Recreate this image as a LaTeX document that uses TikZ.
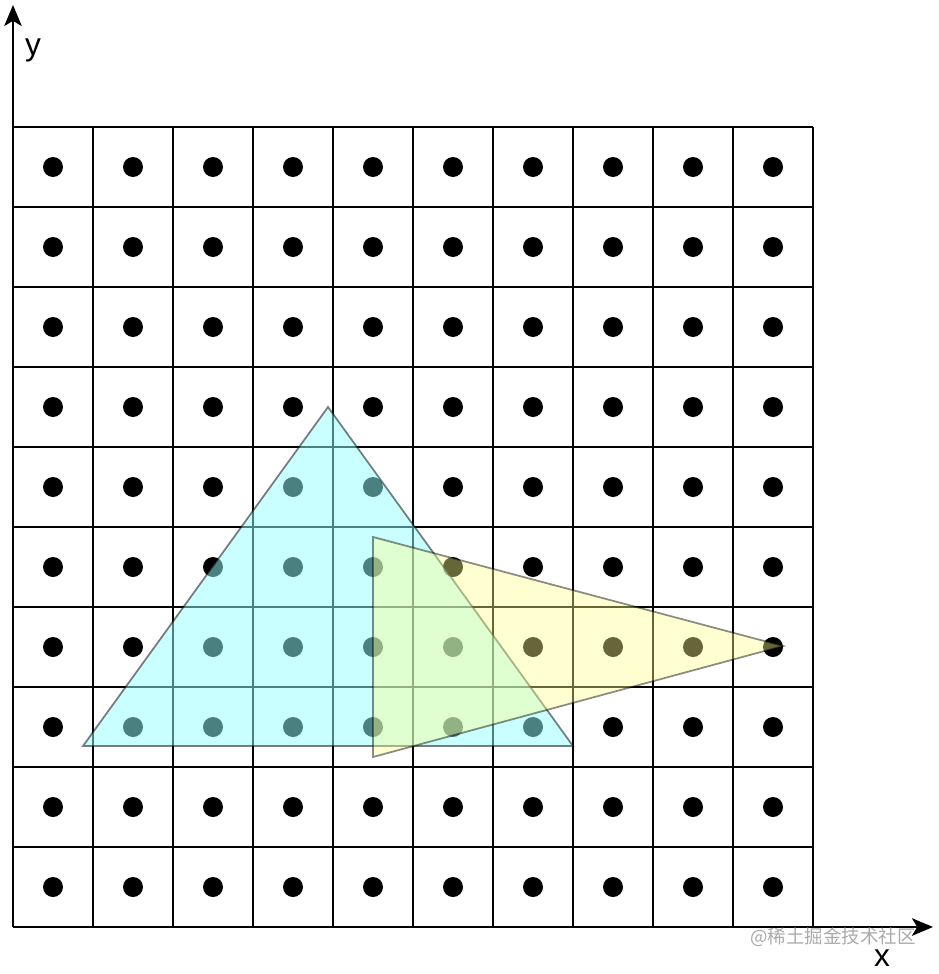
\documentclass[tikz,border=0pt]{standalone}
\usepackage{fontspec}
\setmainfont{Liberation Sans}
\newfontfamily\cjk{Noto Sans CJK SC}
\usetikzlibrary{arrows.meta}
\definecolor{gdCyan}{RGB}{150,255,255}
\definecolor{gdYellow}{RGB}{255,255,140}
\definecolor{gdMark}{RGB}{170,170,170}
\tikzset{
  cellline/.style={draw=black, line width=1.1pt},
  dotpt/.style={fill=black},
  axisarr/.style={-{Stealth[length=12pt,width=10pt,inset=3pt]}, line width=1.1pt},
  triC/.style={fill=gdCyan, fill opacity=0.5, draw=black, draw opacity=0.5, line width=1pt},
  triY/.style={fill=gdYellow, fill opacity=0.4, draw=black, draw opacity=0.45, line width=1pt},
  axlbl/.style={font=\fontsize{18}{20}\selectfont, anchor=base, inner sep=0pt},
}
\begin{document}
\begin{tikzpicture}[x=0.02cm, y=-0.02cm]
  \useasboundingbox (0,0) rectangle (938,974);
  % grid of pixels
  \foreach \k in {0,...,10} {
    \draw[cellline] (13+80*\k,127) -- (13+80*\k,927);
    \draw[cellline] (13,127+80*\k) -- (813,127+80*\k);
  }
  % sample points
  \foreach \i in {0,...,9}
    \foreach \j in {0,...,9}
      \fill[dotpt] (53+80*\i,167+80*\j) circle[radius=0.2cm];
  % axes
  \coordinate (o) at (13,927);
  \coordinate (ytip) at (13,5);
  \coordinate (xtip) at (933,927);
  \draw[axisarr] (o) -- (ytip);
  \draw[axisarr] (o) -- (xtip);
  \node[axlbl] (ylab) at (33,55) {y};
  \node[axlbl] (xlab) at (882,966) {x};
  % triangles
  \draw[triC] (83,746) -- (328,407) -- (573,746) -- cycle;
  \draw[triY] (373,537) -- (783,646) -- (373,757) -- cycle;
  \node[text=gdMark, font=\cjk\fontsize{10.5}{12}\selectfont, inner sep=0pt] (wm) at (833,937) {@稀土掘金技术社区};
\end{tikzpicture}
\end{document}
